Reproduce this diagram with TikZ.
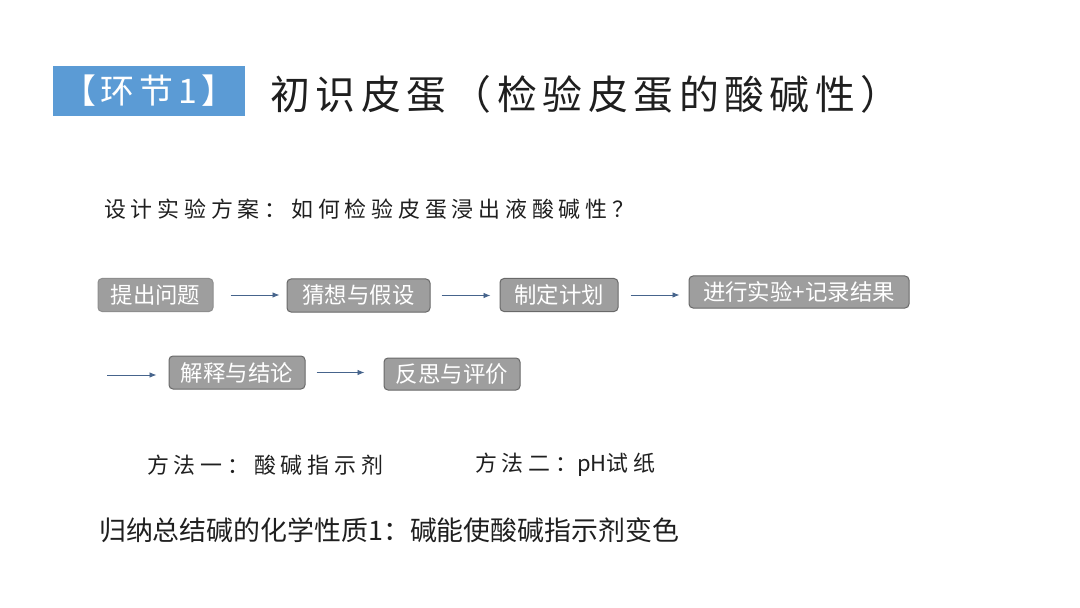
\documentclass[tikz,border=0pt]{standalone}
\usepackage{xcolor}
\usepackage{fontspec}
\setmainfont{Noto Sans CJK SC}
\newfontfamily\spaced[LetterSpace=14]{Noto Sans CJK SC}
\newfontfamily\wide[LetterSpace=22]{Noto Sans CJK SC}
\usepackage{tikz}
\usetikzlibrary{arrows.meta,positioning}

\definecolor{tagblue}{RGB}{91,155,213}
\definecolor{boxgray}{RGB}{158,158,158}
\definecolor{boxedge}{RGB}{105,105,105}
\definecolor{flowblue}{RGB}{70,100,140}

\tikzset{
  stepbox/.style={draw=boxedge, fill=boxgray, rounded corners=4bp, line width=1bp,
    text=white, inner sep=0pt, minimum height=33bp,
    font=\fontsize{22.5}{22.5}\selectfont},
  flow/.style={draw=flowblue, line width=0.8bp, -{Latex[length=7bp,width=5.5bp]},
    shorten <=11bp, shorten >=9bp},
  plain/.style={anchor=west, inner sep=0pt, text=black!88}
}

\begin{document}
\begin{tikzpicture}[x=1bp, y=-1bp]
			\useasboundingbox[fill=white] (0,0) rectangle (1080,608);

			% heading
			\node[fill=tagblue, minimum width=192bp, minimum height=50bp, inner sep=0pt,
				text=white, font=\spaced\fontsize{34}{34}\selectfont] (tag) at (149,91) {【环节1】};
			\node[plain, font=\spaced\fontsize{40}{40}\selectfont] (title) at (270,94)
				{初识皮蛋（检验皮蛋的酸碱性）};
			\node[plain, font=\wide\fontsize{22}{22}\selectfont] (ask) at (104,209)
				{设计实验方案：如何检验皮蛋浸出液酸碱性？};

			% steps
			\node[stepbox, draw=boxgray!90!black, minimum width=115bp] (s1) at (155.5,295) {提出问题};
			\node[stepbox, minimum width=143bp] (s2) at (358.5,295.5) {猜想与假设};
			\node[stepbox, minimum width=118bp] (s3) at (559,295) {制定计划};
			\node[stepbox, minimum width=220bp, minimum height=32bp] (s4) at (799,292) {进行实验+记录结果};
			\node[stepbox, minimum width=136bp] (s5) at (237,372.5) {解释与结论};
			\node[stepbox, minimum width=136bp, minimum height=32bp] (s6) at (452,374) {反思与评价};
			\coordinate (back) at (96,375);

			\draw[flow, shorten >=7bp, shorten <=17bp] (s1) -- (s2.west |- s1);
			\draw[flow] (s2) -- (s3.west |- s2);
			\draw[flow, shorten <=12bp] (s3) -- (s4.west |- s3);
			\draw[flow, shorten >=12bp] (back) -- (s5.west |- back);
			\draw[flow, shorten >=19bp] (s5) -- (s6.west |- s5);

			% methods and summary
			\node[plain, font=\wide\fontsize{22}{22}\selectfont] (m1) at (147,465) {方法一：酸碱指示剂};
			\node[plain, font=\fontsize{22}{22}\selectfont] (m2) at (475,465)
				{{\wide 方法二：}pH{\wide 试纸}};
			\node[plain, font=\fontsize{27}{27}\selectfont] (sum) at (99,530)
				{归纳总结碱的化学性质1：碱能使酸碱指示剂变色};
		\end{tikzpicture}
\end{document}
